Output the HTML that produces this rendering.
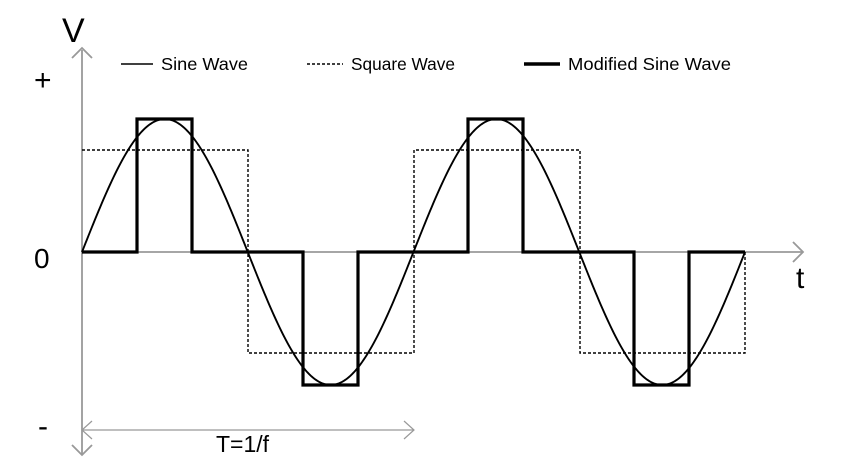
<!DOCTYPE html>
<html><head><style>
html,body{margin:0;padding:0;background:#fff;}
svg{display:block;}
text{font-family:"Liberation Sans",sans-serif;fill:#000;}
</style></head><body>
<svg id="s" width="850" height="469" viewBox="0 0 850 469" xmlns="http://www.w3.org/2000/svg">
<g stroke="#999" stroke-width="1.8" fill="none">
<line x1="82" y1="50" x2="82" y2="454"/>
<polyline points="72,58 82,48 92,58"/>
<polyline points="72,445 82,455 92,445"/>
<line x1="82" y1="252" x2="803" y2="252"/>
<polyline points="793,242 803,252 793,262"/>
<line x1="82" y1="430" x2="414" y2="430" stroke-width="1.2"/>
<polyline points="92,421 82,430 92,439" stroke-width="1.2"/>
<polyline points="404,421 414,430 404,439" stroke-width="1.2"/>
</g>
<text x="62" y="42" font-size="34">V</text>
<text x="34" y="90" font-size="30">+</text>
<text x="34" y="268" font-size="28">0</text>
<text x="38" y="436" font-size="30">-</text>
<text x="796" y="288" font-size="30">t</text>
<text x="216" y="452" font-size="23">T=1/f</text>
<line x1="121" y1="64" x2="153" y2="64" stroke="#000" stroke-width="1.5"/>
<text x="161" y="70" font-size="17.5" textLength="87" lengthAdjust="spacingAndGlyphs">Sine Wave</text>
<line x1="307" y1="64" x2="343" y2="64" stroke="#000" stroke-width="1.5" stroke-dasharray="3,2"/>
<text x="351" y="70" font-size="17.5" textLength="104" lengthAdjust="spacingAndGlyphs">Square Wave</text>
<line x1="524" y1="64" x2="560" y2="64" stroke="#000" stroke-width="3.5"/>
<text x="568" y="70" font-size="17.5" textLength="163" lengthAdjust="spacingAndGlyphs">Modified Sine Wave</text>
<polyline fill="none" stroke="#000" stroke-width="1.4" stroke-dasharray="3,2" points="82,150 248,150 248,353 414,353 414,150 580,150 580,353 745,353 745,252"/>
<polyline fill="none" stroke="#000" stroke-width="3.2" points="82,252 137,252 137,119 192,119 192,252 303,252 303,385 358,385 358,252 468,252 468,119 523,119 523,252 634,252 634,385 689,385 689,252 745,252"/>
<polyline id="sine" fill="none" stroke="#000" stroke-width="1.9" points=""/>
</svg>
<script>
var p=[];for(var i=0;i<=400;i++){var x=82+i*(745-82)/400;var y=252-133*Math.sin(2*Math.PI*(x-82)/331.5);p.push(x.toFixed(2)+","+y.toFixed(2));}
document.getElementById("sine").setAttribute("points",p.join(" "));
</script>
</body></html>
